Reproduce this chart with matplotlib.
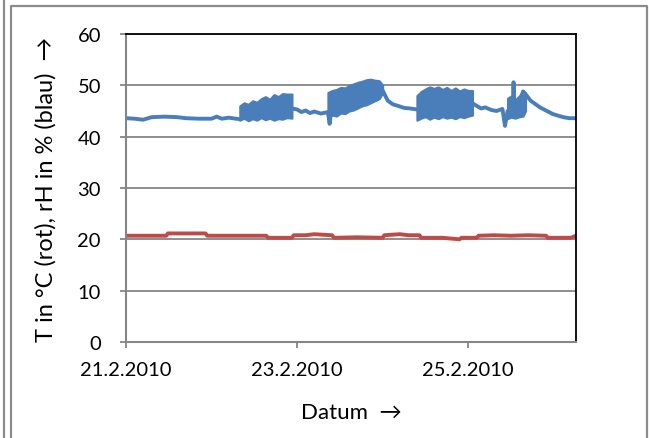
import matplotlib
matplotlib.use("Agg")
import matplotlib.pyplot as plt
from matplotlib.lines import Line2D

plt.rcParams['font.family'] = ['Lato', 'DejaVu Sans']

# time in days since 21.2.2010 00:00
rh_t = [0, 0.1, 0.2, 0.3, 0.45, 0.6, 0.7, 0.85, 1.0, 1.06, 1.12, 1.2, 1.33,
        1.45, 1.6, 1.75, 1.94, 2.0, 2.05, 2.1, 2.15, 2.2, 2.28, 2.36, 2.38,
        2.4, 2.6, 2.8, 2.95, 3.0, 3.06, 3.12, 3.18, 3.25, 3.32, 3.40,
        3.6, 3.8, 4.05, 4.1, 4.15, 4.2, 4.27, 4.33, 4.4, 4.43, 4.46,
        4.52, 4.53, 4.54, 4.6, 4.64, 4.67, 4.73, 4.84, 4.99, 5.11, 5.18, 5.26]
rh_v = [43.6, 43.5, 43.3, 43.8, 43.9, 43.8, 43.6, 43.5, 43.5, 43.9, 43.5, 43.7, 43.4,
        44.5, 45.0, 45.5, 45.5, 45.3, 44.8, 45.1, 44.6, 44.9, 44.5, 44.8, 42.5,
        45.0, 47.0, 48.5, 49.5, 49.0, 47.0, 46.3, 46.0, 45.6, 45.5, 45.3,
        46.5, 46.5, 46.5, 46.0, 45.5, 45.7, 45.2, 45.0, 45.4, 42.1, 45.0,
        45.5, 50.6, 45.5, 46.0, 48.8, 48.3, 47.0, 45.7, 44.4, 43.8, 43.6, 43.6]

# dense oscillation periods of rH: lower / upper envelope
osc1_t = [1.33, 1.38, 1.43, 1.48, 1.53, 1.58, 1.63, 1.68, 1.73, 1.78, 1.83, 1.88, 1.94]
osc1_hi = [46.0, 46.6, 46.3, 47.0, 46.7, 47.4, 47.8, 47.3, 48.2, 47.8, 48.4, 48.3, 48.3]
osc1_lo = [43.2, 43.6, 43.1, 43.5, 43.2, 43.7, 43.3, 43.6, 43.2, 43.5, 43.4, 43.7, 43.6]
osc2_t = [2.36, 2.41, 2.46, 2.51, 2.56, 2.61, 2.66, 2.71, 2.76, 2.81, 2.86, 2.91, 2.96, 3.0]
osc2_hi = [48.6, 49.0, 49.2, 49.6, 49.5, 50.0, 50.3, 50.6, 50.8, 51.1, 51.2, 51.0, 50.9, 50.0]
osc2_lo = [43.8, 44.2, 44.0, 44.6, 44.5, 45.0, 45.2, 45.6, 46.0, 46.2, 46.6, 47.0, 47.4, 48.5]
osc3_t = [3.40, 3.45, 3.5, 3.55, 3.6, 3.65, 3.7, 3.75, 3.8, 3.85, 3.9, 3.95, 4.0, 4.05]
osc3_hi = [48.0, 48.8, 49.3, 49.7, 49.4, 49.7, 49.2, 49.6, 49.0, 49.5, 48.9, 49.3, 49.0, 49.0]
osc3_lo = [43.2, 43.6, 43.9, 43.4, 43.8, 43.5, 43.9, 43.6, 43.8, 43.5, 43.9, 43.7, 44.0, 44.2]
osc4_t = [4.46, 4.50, 4.55, 4.60, 4.64, 4.67]
osc4_hi = [47.5, 47.9, 47.2, 48.0, 49.0, 48.5]
osc4_lo = [43.5, 43.8, 43.6, 43.9, 44.0, 45.0]

temp_t = [0, 0.47, 0.49, 0.93, 0.95, 1.64, 1.66, 1.94, 1.96, 2.1, 2.2, 2.3,
          2.41, 2.43, 2.7, 3.0, 3.02, 3.2, 3.3, 3.43, 3.45, 3.7, 3.9, 3.92,
          4.1, 4.12, 4.3, 4.5, 4.7, 4.91, 4.93, 5.2, 5.26]
temp_v = [20.7, 20.7, 21.15, 21.15, 20.7, 20.7, 20.3, 20.3, 20.8, 20.8, 21.0, 20.9,
          20.8, 20.3, 20.4, 20.3, 20.8, 21.0, 20.8, 20.8, 20.3, 20.3, 20.0, 20.3,
          20.3, 20.7, 20.8, 20.7, 20.8, 20.7, 20.3, 20.3, 20.7]

x_ticks = [0, 2, 4]
x_labels = ['21.2.2010', '23.2.2010', '25.2.2010']
y_ticks = [0, 10, 20, 30, 40, 50, 60]

blue = '#4a7ebb'
red = '#be4b48'
grey = '#868686'

fig = plt.figure(figsize=(6.49, 4.39), dpi=100)
ax = fig.add_axes([126 / 649, 96 / 439, 450 / 649, 308 / 439])

ax.plot(rh_t, rh_v, color=blue, lw=2.8, solid_joinstyle='round')
for t, lo, hi in [(osc1_t, osc1_lo, osc1_hi), (osc2_t, osc2_lo, osc2_hi),
                  (osc3_t, osc3_lo, osc3_hi), (osc4_t, osc4_lo, osc4_hi)]:
    ax.fill_between(t, lo, hi, color=blue, lw=1.5, edgecolor=blue)
ax.plot(temp_t, temp_v, color=red, lw=2.8, solid_joinstyle='round')

ax.set_xlim(0, 5.26)
ax.set_ylim(0, 60)
ax.set_xticks(x_ticks)
ax.set_xticklabels(x_labels)
ax.set_yticks(y_ticks)
ax.grid(axis='y', color=grey, lw=1.3)
ax.set_axisbelow(True)
ax.tick_params(axis='both', labelsize=14.5, length=4, width=1.3, color=grey)
ax.tick_params(axis='y', pad=14)
ax.tick_params(axis='x', pad=10)

for side in ['left', 'bottom']:
    ax.spines[side].set_color(grey)
    ax.spines[side].set_linewidth(1.5)
for side in ['top', 'right']:
    ax.spines[side].set_color('black')
    ax.spines[side].set_linewidth(1.3)

ax.set_ylabel('T in °C (rot), rH in % (blau)  →', fontsize=17, labelpad=15)
ax.set_xlabel('Datum  →', fontsize=16, labelpad=17)

# chart frame
W, H = 649, 439
fig.add_artist(Line2D([4 / W, 4 / W], [0, 1], color='#8c8c8c', lw=1.6))
fig.add_artist(Line2D([11 / W, 11 / W, 647 / W, 647 / W], [0, 1 - 7 / H, 1 - 7 / H, 0],
                      color='#8c8c8c', lw=1.6))

fig.savefig('out.png', dpi=100)
